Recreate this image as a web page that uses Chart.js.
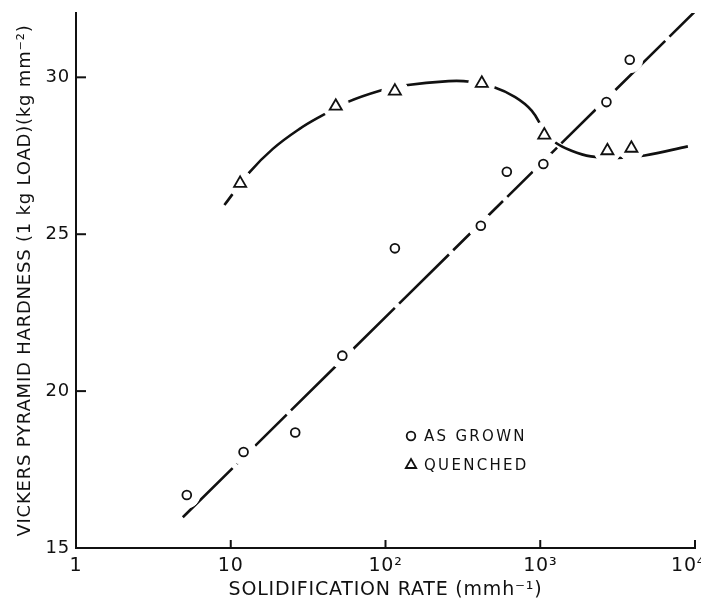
<!DOCTYPE html>
<html><head><meta charset="utf-8">
<script src="https://cdn.jsdelivr.net/npm/chart.js@4.4.1/dist/chart.umd.min.js"></script>
<style>html,body{margin:0;padding:0;background:#fff}#wrap{width:701px;height:600px;position:relative}</style>
</head><body><div id="wrap"><canvas id="c"></canvas></div>
<script>
// ---- data ----
const asGrownX = [5.2, 12.1, 26.1, 52.6, 115, 413, 608, 1047, 2677, 3786];
const asGrownY = [16.69, 18.06, 18.68, 21.13, 24.55, 25.27, 26.99, 27.24, 29.21, 30.56];
const quenchedX = [11.5, 47.7, 115, 419, 1062, 2716, 3880];
const quenchedY = [26.62, 29.08, 29.56, 29.81, 28.16, 27.66, 27.74];
const fitLineX = [4.9, 10000];
const fitLineY = [15.98, 32.1];
const curveX = [9.1, 13.2, 18.7, 27.7, 38.8, 56.7, 93, 131, 256, 353, 499, 689, 880, 1062, 1245, 1592, 2124, 3184, 4731, 8993];
const curveY = [25.93, 26.97, 27.72, 28.35, 28.78, 29.21, 29.58, 29.74, 29.88, 29.86, 29.69, 29.37, 28.94, 28.3, 27.93, 27.66, 27.48, 27.43, 27.51, 27.80];
const xTickValues = [1, 10, 100, 1000, 10000];
const xTickLabels = ['1', '10', '10²', '10³', '10⁴  '];
const yTickValues = [15, 20, 25, 30];
const legendLabels = ['AS GROWN', 'QUENCHED'];
const xTitle = 'SOLIDIFICATION RATE (mmh⁻¹)';
const yTitle = 'VICKERS PYRAMID HARDNESS (1 kg LOAD)(kg mm⁻²)';

const INK = '#111';
const pts = (xs, ys) => xs.map((x, i) => ({x, y: ys[i]}));

Chart.defaults.font.family = '"DejaVu Sans", sans-serif';
Chart.defaults.color = INK;

const inwardTicks = {
  id: 'inwardTicks',
  beforeDraw(chart) { chart.ctx.letterSpacing = '0.8px'; },
  afterDraw(chart) {
    const {ctx, chartArea, scales: {x, y}} = chart;
    ctx.save();
    ctx.letterSpacing = '0px';
    ctx.strokeStyle = INK; ctx.lineWidth = 2;
    x.ticks.forEach(t => {
      const px = x.getPixelForValue(t.value);
      ctx.beginPath(); ctx.moveTo(px, chartArea.bottom); ctx.lineTo(px, chartArea.bottom - 8); ctx.stroke();
    });
    y.ticks.forEach(t => {
      const py = y.getPixelForValue(t.value);
      ctx.beginPath(); ctx.moveTo(chartArea.left, py); ctx.lineTo(chartArea.left + 10, py); ctx.stroke();
    });
    // legend
    ctx.font = '15px "DejaVu Sans"';
    ctx.letterSpacing = '2.3px';
    ctx.fillStyle = INK; ctx.textBaseline = 'middle'; ctx.textAlign = 'left';
    ctx.lineWidth = 1.8;
    const lx = 411, ly = [436, 465];
    ctx.beginPath(); ctx.arc(lx, ly[0], 4.3, 0, Math.PI * 2); ctx.stroke();
    const r = 6;
    ctx.beginPath();
    ctx.moveTo(lx, ly[1] - r);
    ctx.lineTo(lx + r * 0.866, ly[1] + r * 0.5);
    ctx.lineTo(lx - r * 0.866, ly[1] + r * 0.5);
    ctx.closePath(); ctx.stroke();
    ctx.fillText(legendLabels[0], 424, ly[0] + 1);
    ctx.fillText(legendLabels[1], 424, ly[1] + 1);
    ctx.restore();
  }
};

new Chart(document.getElementById('c'), {
  type: 'scatter',
  data: {
    datasets: [
      {label: legendLabels[0], data: pts(asGrownX, asGrownY), pointStyle: 'circle', pointRadius: 4.4,
       pointBorderWidth: 1.8, pointBorderColor: INK, pointBackgroundColor: '#fff', order: 1},
      {label: legendLabels[1], data: pts(quenchedX, quenchedY), pointStyle: 'triangle', pointRadius: 7,
       pointBorderWidth: 1.8, pointBorderColor: INK, pointBackgroundColor: '#fff', order: 1},
      {label: 'halo1', data: pts(asGrownX, asGrownY), pointStyle: 'circle', pointRadius: 13, pointBorderWidth: 1,
       pointBackgroundColor: '#ffffff', pointBorderColor: '#ffffff', order: 2},
      {label: 'halo2', data: pts(quenchedX, quenchedY), pointStyle: 'circle', pointRadius: 13, pointBorderWidth: 1,
       pointBackgroundColor: '#ffffff', pointBorderColor: '#ffffff', order: 2},
      {label: 'fit', data: pts(fitLineX, fitLineY), showLine: true, pointRadius: 0, borderColor: INK,
       borderWidth: 2.6, borderDash: [70, 6], order: 3},
      {label: 'curve', data: pts(curveX, curveY), showLine: true, pointRadius: 0, borderColor: INK,
       borderWidth: 2.6, tension: 0.4, order: 3}
    ]
  },
  options: {
    responsive: true, maintainAspectRatio: false, animation: false, events: [],
    layout: {autoPadding: false, padding: {top: 13, right: 6, left: 0, bottom: 0}},
    plugins: {legend: {display: false}, tooltip: {enabled: false}},
    scales: {
      x: {
        type: 'logarithmic', min: 1, max: 10000,
        grid: {display: true, drawOnChartArea: false, drawTicks: false},
        border: {display: true, color: INK, width: 2},
        ticks: {padding: 7, font: {size: 19}, maxRotation: 0, autoSkip: false,
                callback: (v) => { const i = xTickValues.indexOf(v); return i >= 0 ? xTickLabels[i] : ''; }},
        afterBuildTicks: (s) => { s.ticks = xTickValues.map(v => ({value: v})); },
        afterFit: (s) => { s.height = 52; s.paddingLeft = 0; s.paddingRight = 0; },
        title: {display: true, text: xTitle, font: {size: 19, lineHeight: 1}, padding: {top: 0, bottom: 0}}
      },
      y: {
        type: 'linear', min: 15, max: 32.05,
        grid: {display: true, drawOnChartArea: false, drawTicks: false},
        border: {display: true, color: INK, width: 2},
        ticks: {padding: 6, font: {size: 18}},
        afterBuildTicks: (s) => { s.ticks = yTickValues.map(v => ({value: v})); },
        afterFit: (s) => { s.width = 76; s.paddingTop = 0; s.paddingBottom = 0; },
        title: {display: true, text: yTitle, font: {size: 18}, padding: {top: 15, bottom: 0}}
      }
    }
  },
  plugins: [inwardTicks]
});
</script></body></html>
